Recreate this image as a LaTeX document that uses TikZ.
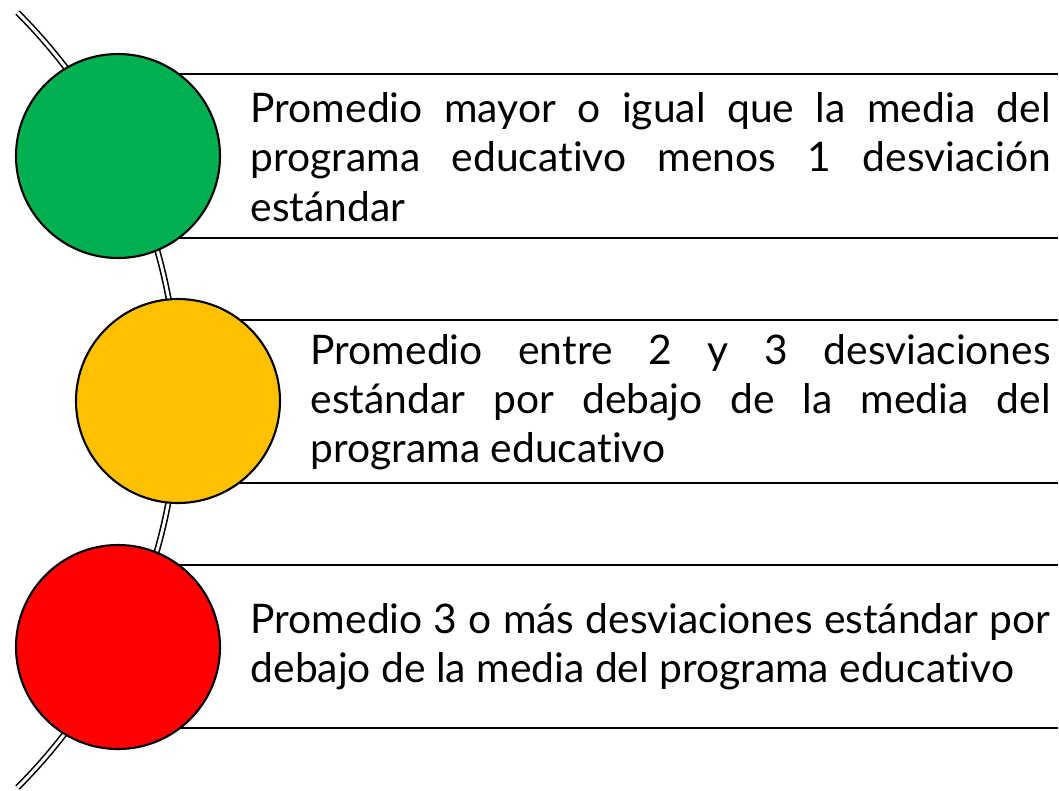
\documentclass[tikz,border=0pt]{standalone}
\usepackage{fontspec}
\setmainfont{Lato}[Ligatures=NoCommon]
\definecolor{cgreen}{HTML}{00B050}
\definecolor{cyellow}{HTML}{FFC000}
\definecolor{cred}{HTML}{FF0000}
\begin{document}
\begin{tikzpicture}[x=1cm,y=-1cm,
  dot/.style={circle,draw=black,line width=0.6pt,minimum size=2.04cm,inner sep=0},
  bandline/.style={draw=black,line width=0.8pt},
  rail/.style={draw=black,line width=0.45pt,double=white,double distance=0.85pt},
  label/.style={anchor=west,inner sep=0,align=justify,
    font=\fontsize{11.6}{14}\selectfont}]
\useasboundingbox (0,0) rectangle (10.59,7.90);
% rail arc
\coordinate (railtop) at (0.175,0.125);
\draw[rail] (railtop) arc[start angle=-45,end angle=45,radius=5.48];
% band lines
\coordinate (b1a) at (1.18,0.74); \coordinate (b1b) at (10.58,0.74);
\coordinate (b1c) at (1.18,2.38); \coordinate (b1d) at (10.58,2.38);
\coordinate (b2a) at (1.78,3.20); \coordinate (b2b) at (10.58,3.20);
\coordinate (b2c) at (1.78,4.83); \coordinate (b2d) at (10.58,4.83);
\coordinate (b3a) at (1.18,5.65); \coordinate (b3b) at (10.58,5.65);
\coordinate (b3c) at (1.18,7.28); \coordinate (b3d) at (10.58,7.28);
\draw[bandline] (b1a) -- (b1b);
\draw[bandline] (b1c) -- (b1d);
\draw[bandline] (b2a) -- (b2b);
\draw[bandline] (b2c) -- (b2d);
\draw[bandline] (b3a) -- (b3b);
\draw[bandline] (b3c) -- (b3d);
% circles
\node[dot,fill=cgreen] (g) at (1.18,1.56) {};
\node[dot,fill=cyellow] (y) at (1.78,4.01) {};
\node[dot,fill=cred] (r) at (1.18,6.47) {};
% texts
\node[label,text width=8.0cm] (t1) at (2.50,1.57)
  {Promedio mayor o igual que la media del\linebreak programa educativo menos 1 desviación\linebreak estándar};
\node[label,text width=7.4cm] (t2) at (3.10,4.02)
  {Promedio entre 2 y 3 desviaciones\linebreak estándar por debajo de la media del\linebreak programa educativo};
\node[label,text width=8.0cm] (t3) at (2.50,6.47)
  {Promedio 3 o más desviaciones estándar por\linebreak debajo de la media del programa educativo};
\end{tikzpicture}
\end{document}
